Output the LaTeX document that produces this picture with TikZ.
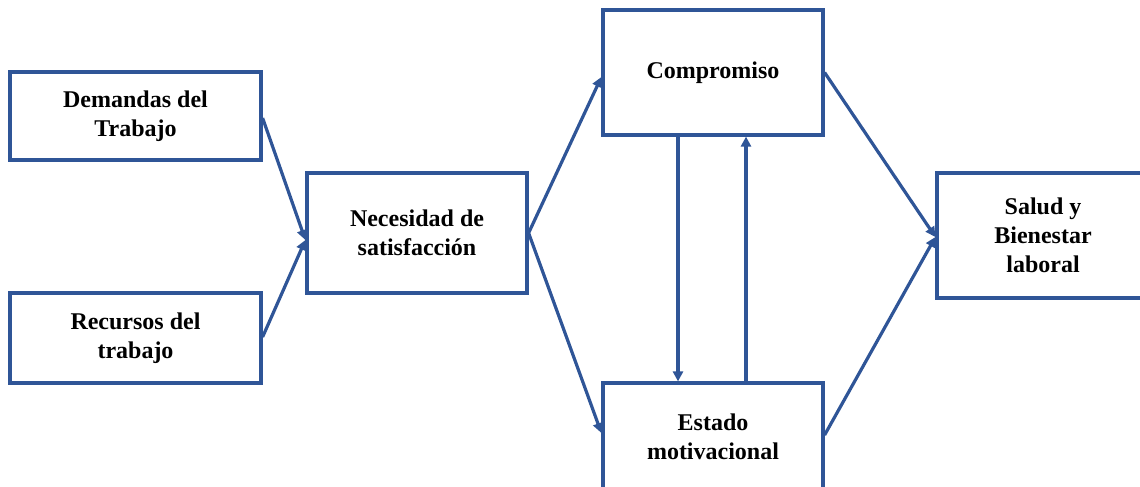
\documentclass[tikz,border=0pt]{standalone}
\usepackage{fontspec}
\setmainfont{Liberation Serif}
\usetikzlibrary{arrows.meta}
\definecolor{boxblue}{HTML}{2F5597}
\tikzset{
  box/.style={draw=boxblue, line width=3.2pt, inner sep=0pt, align=center,
    font=\fontsize{24}{29}\selectfont\bfseries, text=black},
  arr/.style={draw=boxblue, line width=3.2pt, -{Triangle[length=10pt,width=10pt]}}
}
\begin{document}
\begin{tikzpicture}[x=1pt,y=-1pt]
\useasboundingbox (0,0) rectangle (1140,487);
\clip (0,0) rectangle (1140,487);
\node[box, minimum width=251pt, minimum height=88pt] (dem) at (135.5,116) {Demandas del\\Trabajo};
\node[box, minimum width=251pt, minimum height=90pt] (rec) at (135.5,338) {Recursos del\\trabajo};
\node[box, minimum width=220pt, minimum height=120pt] (nec) at (417,233) {Necesidad de\\satisfacción};
\node[box, minimum width=220pt, minimum height=125pt] (comp) at (713,72.5) {Compromiso};
\node[box, minimum width=220pt, minimum height=108pt] (est) at (713,437) {Estado\\motivacional};
\node[box, minimum width=212pt, minimum height=125pt] (sal) at (1043,235.5) {Salud y\\Bienestar\\laboral};
\draw[arr] ([yshift=-2pt]dem.east) -- ([yshift=-7pt]nec.west);
\draw[arr] ([yshift=1pt]rec.east) -- ([yshift=-7pt]nec.west);
\draw[arr] (nec.east) -- ([yshift=-4.5pt]comp.west);
\draw[arr] (nec.east) -- ([yshift=4pt]est.west);
\draw[arr] ([xshift=-35pt]comp.south) -- ([xshift=-35pt]est.north);
\draw[arr] ([xshift=33pt]est.north) -- ([xshift=33pt]comp.south);
\draw[arr] (comp.east) -- ([yshift=-1.5pt]sal.west);
\draw[arr] ([yshift=2pt]est.east) -- ([yshift=-1.5pt]sal.west);
\end{tikzpicture}
\end{document}
